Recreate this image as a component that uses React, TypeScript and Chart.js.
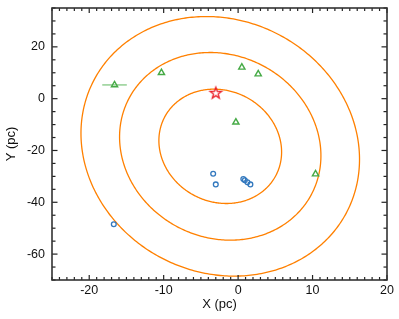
import { useEffect, useRef } from 'react';
import { Chart, registerables } from 'chart.js';

Chart.register(...registerables);

// Axis ranges and tick labels
const X_RANGE = [-25, 20];
const Y_RANGE = [-70, 35];
const X_TICKS = [-20, -10, 0, 10, 20];
const Y_TICKS = [-60, -40, -20, 0, 20];
const X_MINOR_STEP = 1;
const Y_MINOR_STEP = 5;

// Green open triangles (with optional x error)
const TRI_X = [-16.6, -10.3, 0.5, 2.7, -0.3, 10.4];
const TRI_Y = [5.3, 10.0, 12.1, 9.5, -9.1, -29.1];
const TRI_XERR = [1.65, 0, 0, 0, 0, 0];

// Blue open circles
const CIRC_X = [-3.35, -3.0, 0.7, 0.9, 1.25, 1.65, -16.7];
const CIRC_Y = [-29.0, -33.1, -31.0, -31.5, -32.3, -33.1, -48.5];

// Red open star
const STAR_X = [-3.0];
const STAR_Y = [2.3];

// Confidence ellipses: centre, sigmas, correlation, contour levels
const ELLIPSE_CENTER = [-2.4, -18.4];
const ELLIPSE_SIGMA = [5.44, 14.57];
const ELLIPSE_RHO = -0.1;
const CONTOUR_LEVELS = [1.515, 2.486, 3.439];

const ORANGE = 'rgb(255,128,0)';
const GREEN = 'rgb(70,170,70)';
const ERR_GREEN = 'rgb(120,195,120)';
const BLUE = 'rgb(50,120,190)';
const RED = 'rgb(235,30,40)';
const FONT = "'Liberation Sans', Arial, Helvetica, sans-serif";

function makeStar(): HTMLCanvasElement {
  const c = document.createElement('canvas');
  c.width = 16;
  c.height = 16;
  const g = c.getContext('2d')!;
  const R = 6;
  const r = 2.4;
  g.beginPath();
  for (let i = 0; i < 10; i++) {
    const a = -Math.PI / 2 + (i * Math.PI) / 5;
    const rr = i % 2 === 0 ? R : r;
    const px = 8 + rr * Math.cos(a);
    const py = 8.5 + rr * Math.sin(a);
    if (i === 0) g.moveTo(px, py);
    else g.lineTo(px, py);
  }
  g.closePath();
  g.strokeStyle = RED;
  g.lineWidth = 1.3;
  g.stroke();
  return c;
}

const overlay = {
  id: 'overlay',
  beforeDatasetsDraw(chart: any) {
    const { ctx, chartArea, scales } = chart;
    const xs = scales.x;
    const ys = scales.y;
    ctx.save();
    ctx.beginPath();
    ctx.rect(chartArea.left, chartArea.top, chartArea.right - chartArea.left, chartArea.bottom - chartArea.top);
    ctx.clip();
    const [cx, cy] = ELLIPSE_CENTER;
    const [sx, sy] = ELLIPSE_SIGMA;
    const rho = ELLIPSE_RHO;
    ctx.strokeStyle = ORANGE;
    ctx.lineWidth = 1.3;
    for (const k of CONTOUR_LEVELS) {
      ctx.beginPath();
      const N = 400;
      for (let i = 0; i <= N; i++) {
        const t = (i / N) * Math.PI * 2;
        const dx = k * sx * Math.cos(t);
        const dy = k * sy * (rho * Math.cos(t) + Math.sqrt(1 - rho * rho) * Math.sin(t));
        const px = xs.getPixelForValue(cx + dx);
        const py = ys.getPixelForValue(cy + dy);
        if (i === 0) ctx.moveTo(px, py);
        else ctx.lineTo(px, py);
      }
      ctx.closePath();
      ctx.stroke();
    }
    ctx.strokeStyle = ERR_GREEN;
    ctx.lineWidth = 1.2;
    TRI_X.forEach((v, i) => {
      const e = TRI_XERR[i];
      if (!e) return;
      const py = ys.getPixelForValue(TRI_Y[i]);
      ctx.beginPath();
      ctx.moveTo(xs.getPixelForValue(v - e), py);
      ctx.lineTo(xs.getPixelForValue(v + e), py);
      ctx.stroke();
    });
    ctx.restore();
  },
  afterDraw(chart: any) {
    const { ctx, chartArea, scales } = chart;
    const xs = scales.x;
    const ys = scales.y;
    const { left, right, top, bottom } = chartArea;
    ctx.save();
    ctx.strokeStyle = '#222';
    ctx.lineWidth = 1.2;
    const tick = (x1: number, y1: number, x2: number, y2: number) => {
      ctx.beginPath();
      ctx.moveTo(x1, y1);
      ctx.lineTo(x2, y2);
      ctx.stroke();
    };
    for (let v = X_RANGE[0]; v <= X_RANGE[1] + 1e-9; v += X_MINOR_STEP) {
      const px = xs.getPixelForValue(v);
      const len = X_TICKS.includes(v) ? 5 : 3;
      tick(px, bottom, px, bottom - len);
      tick(px, top, px, top + len);
    }
    for (let v = Y_RANGE[0]; v <= Y_RANGE[1] + 1e-9; v += Y_MINOR_STEP) {
      const py = ys.getPixelForValue(v);
      const len = Y_TICKS.includes(v) ? 5.5 : 3.5;
      tick(left, py, left + len, py);
      tick(right, py, right - len, py);
    }
    ctx.lineWidth = 1.6;
    ctx.strokeStyle = '#333';
    ctx.strokeRect(left, top, right - left, bottom - top);
    ctx.restore();
  },
};

export default function App() {
  const ref = useRef<HTMLCanvasElement | null>(null);
  useEffect(() => {
    document.body.style.margin = '0';
    const canvas = ref.current!;
    const star = makeStar();
    const chart = new Chart(canvas, {
      type: 'scatter',
      data: {
        datasets: [
          {
            label: 'triangles',
            data: TRI_X.map((x, i) => ({ x, y: TRI_Y[i] })),
            pointStyle: 'triangle',
            pointRadius: 3.6,
            pointBorderWidth: 1.4,
            borderColor: GREEN,
            backgroundColor: 'rgba(0,0,0,0)',
          },
          {
            label: 'circles',
            data: CIRC_X.map((x, i) => ({ x, y: CIRC_Y[i] })),
            pointStyle: 'circle',
            pointRadius: 2.4,
            pointBorderWidth: 1.3,
            borderColor: BLUE,
            backgroundColor: 'rgba(0,0,0,0)',
          },
          {
            label: 'star',
            data: STAR_X.map((x, i) => ({ x, y: STAR_Y[i] })),
            pointStyle: star,
            pointRadius: 6,
            borderColor: RED,
            backgroundColor: 'rgba(0,0,0,0)',
          },
        ],
      },
      options: {
        responsive: false,
        animation: false,
        layout: { padding: { top: 8, right: 12, left: 0, bottom: 0 } },
        plugins: { legend: { display: false }, tooltip: { enabled: false } },
        scales: {
          x: {
            type: 'linear',
            min: X_RANGE[0],
            max: X_RANGE[1],
            grid: { display: false, drawTicks: false },
            border: { display: false },
            afterBuildTicks: (s: any) => {
              s.ticks = X_TICKS.map((v) => ({ value: v }));
            },
            afterFit: (s: any) => {
              s.height = 39;
              s.paddingLeft = 0;
              s.paddingRight = 0;
            },
            ticks: {
              padding: 3,
              color: '#111',
              font: { family: FONT, size: 12.5 },
              autoSkip: false,
              maxRotation: 0,
            },
            title: {
              display: true,
              text: 'X (pc)',
              color: '#111',
              font: { family: FONT, size: 13 },
              padding: { top: 4, bottom: 7 },
            },
          },
          y: {
            type: 'linear',
            min: Y_RANGE[0],
            max: Y_RANGE[1],
            grid: { display: false, drawTicks: false },
            border: { display: false },
            afterBuildTicks: (s: any) => {
              s.ticks = Y_TICKS.map((v) => ({ value: v }));
            },
            afterFit: (s: any) => {
              s.width = 52;
              s.paddingTop = 0;
              s.paddingBottom = 0;
            },
            ticks: {
              padding: 7,
              color: '#111',
              font: { family: FONT, size: 12.5 },
              autoSkip: false,
            },
            title: {
              display: true,
              text: 'Y (pc)',
              color: '#111',
              font: { family: FONT, size: 13 },
              padding: { top: 4, bottom: 4 },
            },
          },
        },
      },
      plugins: [overlay],
    });
    return () => chart.destroy();
  }, []);
  return (
    <div style={{ width: 399, height: 319 }}>
      <canvas ref={ref} width={399} height={319} style={{ display: 'block' }} />
    </div>
  );
}
